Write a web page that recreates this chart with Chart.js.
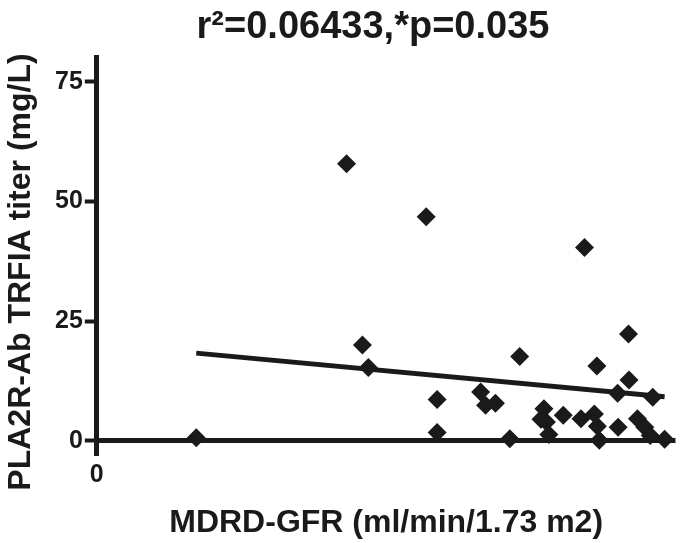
<!DOCTYPE html>
<html>
<head>
<meta charset="utf-8">
<script src="https://cdn.jsdelivr.net/npm/chart.js@4"></script>
<style>
  body { margin: 0; background: #fff; }
</style>
</head>
<body>
<canvas id="scatter-chart" width="685" height="543"></canvas>
<script>
// values
const gfr = [20.1, 50.5, 53.7, 54.9, 66.6, 68.8, 68.8, 77.6, 78.6, 80.6, 83.5, 85.5, 89.8, 90.4, 90.9, 91.4,
  94.3, 97.9, 98.6, 100.6, 101.1, 101.2, 101.6, 105.3, 105.4, 107.5, 107.6, 109.3, 110.8, 111.9, 112.4, 114.8];
const titer = [0.6, 57.9, 20.0, 15.3, 46.8, 8.6, 1.7, 10.2, 7.4, 7.8, 0.4, 17.6, 4.5, 6.7, 3.9, 1.3,
  5.3, 4.6, 40.4, 5.6, 15.6, 3.0, 0.1, 9.9, 2.8, 22.3, 12.7, 4.6, 2.8, 1.1, 9.1, 0.3];
const fitX = [20.1, 114.8];
const fitY = [18.3, 9.2];
const yTicks = [0, 25, 50, 75];
const xTicks = [0];

const ink = "#1a1a1a";
const font = "'Liberation Sans', Arial, sans-serif";

// title and y label are placed by hand, the way the original plot has them
const labels = {
  id: "labels",
  afterDraw(chart) {
    const c = chart.ctx;
    c.save();
    c.fillStyle = ink;
    c.textAlign = "center";
    c.textBaseline = "middle";
    c.font = "bold 38px " + font;
    c.fillText("r²=0.06433,*p=0.035", 373, 28);
    c.translate(21, 272);
    c.rotate(-Math.PI / 2);
    c.font = "bold 32px " + font;
    c.fillText("PLA2R-Ab TRFIA titer (mg/L)", 0, 0);
    c.restore();
  },
};

const ctx = document.getElementById("scatter-chart");
new Chart(ctx, {
  type: "scatter",
  data: {
    datasets: [
      {
        data: gfr.map((x, i) => ({ x: x, y: titer[i] })),
        pointStyle: "rectRot",
        pointRadius: 9.5,
        backgroundColor: ink,
        borderColor: ink,
        borderWidth: 0,
      },
      {
        type: "line",
        data: fitX.map((x, i) => ({ x: x, y: fitY[i] })),
        borderColor: ink,
        borderWidth: 5,
        pointRadius: 0,
        fill: false,
      },
    ],
  },
  plugins: [labels],
  options: {
    responsive: false,
    animation: false,
    layout: { padding: { top: 57, left: 53, right: 3, bottom: 0 } },
    plugins: {
      legend: { display: false },
      tooltip: { enabled: false },
    },
    scales: {
      x: {
        type: "linear",
        min: 0,
        max: 117,
        afterBuildTicks: (s) => { s.ticks = xTicks.map((v) => ({ value: v })); },
        ticks: { color: ink, font: { family: font, size: 25, weight: "bold" }, padding: 7 },
        grid: { display: false, drawTicks: false },
        border: { display: false },
        title: {
          display: true,
          text: "MDRD-GFR (ml/min/1.73 m2)",
          color: ink,
          font: { family: font, size: 32, weight: "bold" },
          padding: { top: 6, bottom: 1 },
        },
      },
      y: {
        min: -2.7,
        max: 80.2,
        afterBuildTicks: (s) => { s.ticks = yTicks.map((v) => ({ value: v })); },
        ticks: { color: ink, font: { family: font, size: 25, weight: "bold" }, padding: 2 },
        grid: {
          color: (c) => (c.tick && c.tick.value === 0 ? ink : "transparent"),
          lineWidth: 5,
          tickColor: ink,
          tickWidth: 4,
          tickLength: 12,
        },
        border: { display: true, color: ink, width: 5 },
      },
    },
  },
});
</script>
</body>
</html>
